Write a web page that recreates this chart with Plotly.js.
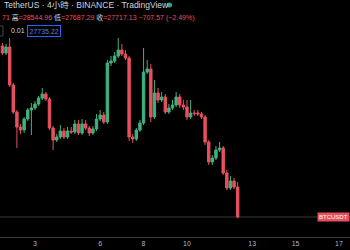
<!DOCTYPE html>
<html>
<head>
<meta charset="utf-8">
<script src="https://cdn.plot.ly/plotly-3.0.1.min.js"></script>
<style>html,body{margin:0;padding:0;background:#000;}#chart{width:350px;height:250px;}</style>
</head>
<body>
<div id="chart"></div>
<script>
// 4-hour BTC/USDT candles
const startTime = '2023-05-01T12:00:00Z';
const barHours = 4;
const opens  = [31752,31587,31729,30832,30195,29841,29770,30030,30242,30289,30384,30525,30620,30502,29817,29534,29605,29746,29605,29746,
                29723,29912,29699,29912,29817,29699,29794,30030,30124,29959,31351,31398,31516,31658,31564,31469,29605,29558,29770,29935,
                31139,31210,30077,30643,30478,30549,30195,30289,30360,30549,30360,30313,30077,30171,30171,30148,30077,29487,29015,29109,
                29298,29346,28755,28401,28566,28425];
const highs  = [31823,31800,31941,30879,30242,29912,30077,30289,30407,30455,30572,30761,30667,30549,29864,29676,29888,29817,29841,29841,
                30006,30006,30030,30006,29864,29864,30148,30242,30195,31422,31516,31611,31941,31800,31658,31516,29676,29817,30006,31705,
                31422,31328,30950,30761,30667,30620,30384,30478,30667,30620,30478,30478,30478,30242,30242,30195,30124,29534,29180,29393,
                29487,29393,28826,28684,28637,28545];
const lows   = [31540,31540,30785,30148,29346,29676,29699,29983,29652,30242,30337,30478,30455,29770,29298,29487,29558,29558,29558,29676,
                29676,29652,29652,29770,29628,29652,29746,29983,29912,29912,31280,31351,31469,31516,31422,29511,29464,29511,29723,29888,
                31092,29959,30030,30407,30431,30148,30148,30242,30313,30289,30242,30006,30030,30100,30100,30030,29416,28944,28944,29062,
                29251,28708,28354,28354,28377,27687];
const closes = [31587,31729,30832,30195,29841,29770,30030,30242,30289,30384,30525,30620,30502,29817,29534,29605,29746,29605,29746,29723,
                29912,29699,29912,29817,29699,29794,30030,30124,29959,31351,31398,31516,31658,31564,31469,29605,29558,29770,29935,31139,
                31210,30077,30643,30478,30549,30195,30289,30360,30549,30360,30313,30077,30171,30160,30148,30077,29487,29015,29109,29298,
                29346,28755,28401,28566,28425,27717];
const tickDates = ['2023-05-03','2023-05-06','2023-05-08','2023-05-10','2023-05-13','2023-05-15','2023-05-17'];
const tickLabels = ['3','6','8','10','13','15','17'];
const lastPrice = 27717.13;

function pad(n){return (n<10?'0':'')+n;}
const t0 = Date.parse(startTime);
const times = opens.map((_, i) => {
  const d = new Date(t0 + i*barHours*3600000);
  return d.getUTCFullYear()+'-'+pad(d.getUTCMonth()+1)+'-'+pad(d.getUTCDate())+' '+pad(d.getUTCHours())+':00';
});

const UP = '#3fb27f', DOWN = '#e8505d';
const trace = {
  type: 'candlestick', x: times, open: opens, high: highs, low: lows, close: closes,
  increasing: {line: {color: UP, width: 1}, fillcolor: UP},
  decreasing: {line: {color: DOWN, width: 1}, fillcolor: DOWN},
  whiskerwidth: 0, hoverinfo: 'skip'
};

const H = 237;
function py(px){return 1 - px/H;}
const FONT = 'Liberation Sans, Arial, Noto Sans CJK SC, sans-serif';
const lab = '#d1d4dc';
const line2 = '<span style="color:'+DOWN+'">71</span> 高<span style="color:'+DOWN+'">=28544.96</span> 低<span style="color:'+DOWN+'">=27687.29</span> 收<span style="color:'+DOWN+'">=27717.13 −707.57 (−2.49%)</span>';

const layout = {
  width: 350, height: 250,
  margin: {l: 0, r: 0, t: 0, b: 13},
  paper_bgcolor: '#000', plot_bgcolor: '#000',
  showlegend: false,
  boxgap: 0.05,
  xaxis: {
    type: 'date', range: ['2023-05-01 09:19', '2023-05-17 12:09'],
    rangeslider: {visible: false}, showgrid: false, zeroline: false,
    tickmode: 'array', tickvals: tickDates, ticktext: tickLabels,
    tickfont: {family: FONT, size: 7, color: '#b2b5be'}, ticks: '', ticklen: 0,
    showline: true, linecolor: '#3a3a3a', linewidth: 1, fixedrange: true
  },
  yaxis: {range: [27245, 32838], visible: false, showgrid: false, fixedrange: true},
  shapes: [
    {type: 'line', xref: 'paper', x0: 0, x1: 1, yref: 'y', y0: lastPrice, y1: lastPrice,
     line: {color: '#3a3a3a', width: 1}, layer: 'below'},
    {type: 'circle', xref: 'paper', yref: 'paper', x0: 167/350, x1: 172/350, y0: py(7.5), y1: py(2.5),
     fillcolor: '#22ab94', line: {width: 0}},
    {type: 'rect', xref: 'paper', yref: 'paper', x0: -0.02, x1: 3/350, y0: py(36), y1: py(26),
     line: {color: '#434651', width: 1}}
  ],
  annotations: [
    {xref: 'paper', yref: 'paper', x: 2/350, y: py(5), xanchor: 'left', yanchor: 'middle', showarrow: false,
     text: 'TetherUS · 4小時 · BINANCE · TradingView', font: {family: FONT, size: 8.5, color: lab}},
    {xref: 'paper', yref: 'paper', x: 0, y: py(17), xanchor: 'left', yanchor: 'middle', showarrow: false,
     text: line2, font: {family: FONT, size: 7, color: lab}},
    {xref: 'paper', yref: 'paper', x: 9/350, y: py(31), xanchor: 'left', yanchor: 'middle', showarrow: false,
     text: '0.01', font: {family: FONT, size: 7, color: lab}},
    {xref: 'paper', yref: 'paper', x: 27/350, y: py(31), xanchor: 'left', yanchor: 'middle', showarrow: false,
     text: '27735.22', font: {family: FONT, size: 7, color: '#4d7fff'}, bordercolor: '#2962ff', borderwidth: 1, borderpad: 1.5, bgcolor: '#000'},
    {xref: 'paper', yref: 'y', x: 1, y: lastPrice, xanchor: 'right', yanchor: 'middle', showarrow: false,
     text: 'BTCUSDT', font: {family: FONT, size: 6, color: '#fff'}, bgcolor: DOWN, borderpad: 1}
  ]
};
Plotly.newPlot('chart', [trace], layout, {staticPlot: true, displayModeBar: false});
</script>
</body>
</html>
